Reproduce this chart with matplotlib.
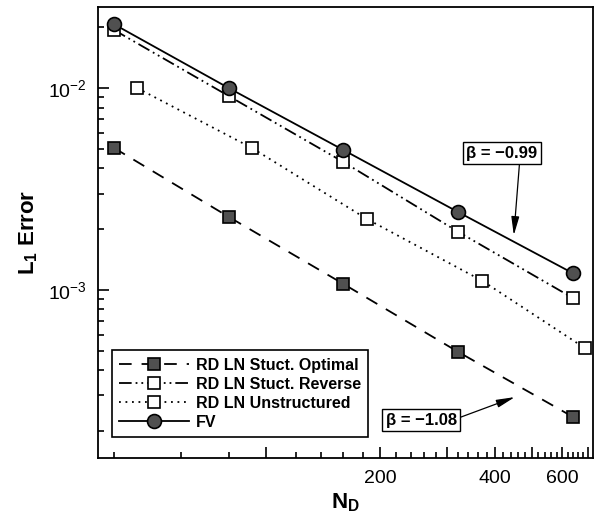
import matplotlib
matplotlib.use("Agg")
import matplotlib.pyplot as plt
from matplotlib.ticker import FixedLocator, FixedFormatter, LogLocator, NullFormatter

plt.rcParams["font.family"] = ["Liberation Sans", "DejaVu Sans"]
plt.rcParams["mathtext.fontset"] = "custom"
plt.rcParams["mathtext.rm"] = "Liberation Sans"
plt.rcParams["mathtext.it"] = "Liberation Sans:italic"
plt.rcParams["mathtext.bf"] = "Liberation Sans:bold"

# data (N_D vs L1 error)
nd_struct = [40, 80, 160, 320, 640]
err_optimal = [0.00505, 0.0023, 0.00107, 0.000493, 0.000235]
err_reverse = [0.0194, 0.00913, 0.0043, 0.00194, 0.000912]

nd_unstruct = [46, 92, 184, 370, 687]
err_unstruct = [0.0100, 0.00505, 0.00225, 0.00111, 0.000516]

nd_fv = [40, 80, 160, 320, 640]
err_fv = [0.0207, 0.0100, 0.00493, 0.00243, 0.00121]

labels = ["RD LN Stuct. Optimal", "RD LN Stuct. Reverse", "RD LN Unstructured", "FV"]
slope_labels = ["\u03b2 = \u22120.99", "\u03b2 = \u22121.08"]

x_major = [100, 200, 300, 400, 500, 600, 700]
x_major_labels = ["", "200", "", "400", "", "600", ""]
x_minor = [v for v in range(40, 720, 20) if v % 100 != 0]

fig = plt.figure(figsize=(5.96, 5.24), dpi=100)
ax = fig.add_axes([0.1644, 0.126, 0.8306, 0.8606])

dark = "#505050"
lw = 1.3
ax.plot(nd_struct, err_optimal, color="black", lw=lw, ls=(0, (7, 5.5)),
        marker="s", ms=9, mfc=dark, mec="black", mew=1.2, label=labels[0])
ax.plot(nd_struct, err_reverse, color="black", lw=lw, ls=(0, (7, 2.2, 1, 2.2, 1, 2.2)),
        marker="s", ms=9, mfc="white", mec="black", mew=1.2, label=labels[1])
ax.plot(nd_unstruct, err_unstruct, color="black", lw=lw, ls=(0, (1, 2.6)),
        marker="s", ms=9, mfc="white", mec="black", mew=1.2, label=labels[2])
ax.plot(nd_fv, err_fv, color="black", lw=lw, ls="-",
        marker="o", ms=10, mfc=dark, mec="black", mew=1.2, label=labels[3])

ax.set_xscale("log")
ax.set_yscale("log")
ax.set_xlim(36.3, 723)
ax.set_ylim(1.47e-4, 0.0252)

ax.xaxis.set_major_locator(FixedLocator(x_major))
ax.xaxis.set_major_formatter(FixedFormatter(x_major_labels))
ax.xaxis.set_minor_locator(FixedLocator(x_minor))
ax.xaxis.set_minor_formatter(NullFormatter())
ax.yaxis.set_major_locator(LogLocator(base=10))
ax.yaxis.set_minor_locator(LogLocator(base=10, subs=range(2, 10)))
ax.yaxis.set_minor_formatter(NullFormatter())

ax.tick_params(which="both", direction="in", top=False, right=False,
               labelsize=14, width=1.2, color="black")
ax.tick_params(which="major", length=8)
ax.tick_params(which="minor", length=4.5)
ax.tick_params(axis="x", pad=9)
ax.tick_params(axis="y", pad=8)
for s in ax.spines.values():
    s.set_linewidth(1.3)

ax.set_xlabel(r"N$_{\mathbf{D}}$", fontsize=16, fontweight="bold", labelpad=3)
ax.set_ylabel(r"L$_{\mathbf{1}}$ Error", fontsize=16, fontweight="bold", labelpad=6)

leg = ax.legend(loc="lower left", bbox_to_anchor=(0.028, 0.047), borderaxespad=0,
                fancybox=False, edgecolor="black", framealpha=1, handlelength=4.4,
                prop={"weight": "bold", "size": 11.5}, labelspacing=0.25,
                handletextpad=0.4, borderpad=0.45)
leg.get_frame().set_linewidth(1.2)

box = dict(boxstyle="square,pad=0.2", fc="white", ec="black", lw=1.0)
ax.annotate(slope_labels[0], xy=(0.840, 0.494), xycoords="axes fraction",
            xytext=(0.816, 0.676), textcoords="axes fraction",
            ha="center", va="center", fontsize=12, fontweight="bold", bbox=box,
            arrowprops=dict(arrowstyle="-|>,head_length=0.7,head_width=0.15",
                            mutation_scale=16, lw=0.9, color="black",
                            relpos=(0.75, 0), shrinkA=0, shrinkB=0))
ax.annotate(slope_labels[1], xy=(0.842, 0.135), xycoords="axes fraction",
            xytext=(0.653, 0.084), textcoords="axes fraction",
            ha="center", va="center", fontsize=12, fontweight="bold", bbox=box,
            arrowprops=dict(arrowstyle="-|>,head_length=0.7,head_width=0.15",
                            mutation_scale=16, lw=0.9, color="black",
                            relpos=(1, 0.6), shrinkA=0, shrinkB=0))

fig.savefig("out.png", dpi=100)
